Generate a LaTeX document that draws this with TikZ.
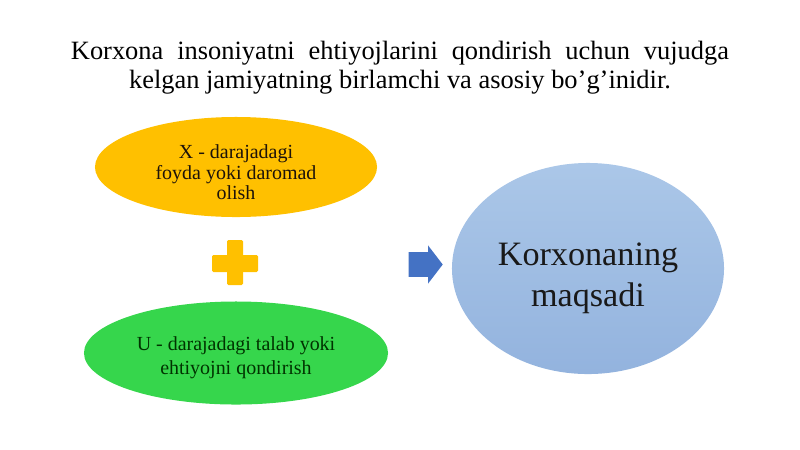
\documentclass[tikz,border=0pt]{standalone}
\usepackage{fontspec}
\setmainfont{Liberation Serif}
\usetikzlibrary{shapes.geometric,shapes.arrows}

\definecolor{goldfill}{HTML}{FFC000}
\definecolor{greenfill}{HTML}{36D64C}
\definecolor{bluetop}{HTML}{ABC7E8}
\definecolor{bluebottom}{HTML}{93B3DE}
\definecolor{arrowblue}{HTML}{4472C4}

\newcommand{\ovaltext}[2]{\raisebox{#1}[\height][\depth]{\begin{tabular}{@{}c@{}}#2\end{tabular}}}

\tikzset{
  oval/.style={ellipse, inner sep=0pt, align=center},
}

\begin{document}
\begin{tikzpicture} [x=0.025cm, y=-0.025cm]
	\useasboundingbox (0,0) rectangle (800,449);
	\node (title) at (400,68) [align=center, font=\fontsize{18.8}{20.6}\selectfont]
		{\makebox[16.45cm][s]{Korxona insoniyatni ehtiyojlarini qondirish uchun vujudga}\\
		 kelgan jamiyatning birlamchi va asosiy bo’g’inidir.};
	\node (profit) at (236,167) [oval, fill=goldfill, text=black!85!brown,
		minimum width=7.05cm, minimum height=2.5cm, font=\fontsize{14.2}{14.6}\selectfont]
		{\ovaltext{-0.2cm}{X - darajadagi\\foyda yoki daromad\\olish}};
	\fill[goldfill, rounded corners=1pt] (212,255) rectangle (258,272);
	\fill[goldfill, rounded corners=1pt] (227,240) rectangle (243,285);
	\node (need) at (236,353) [oval, fill=greenfill, text=black!80!green,
		minimum width=7.6cm, minimum height=2.575cm, font=\fontsize{14.2}{17}\selectfont]
		{\ovaltext{-0.11cm}{U - darajadagi talab yoki\\ehtiyojni qondirish}};
	\node (arr) at (421,264.5) [single arrow, fill=arrowblue, inner xsep=0pt, inner ysep=0.3cm,
		minimum height=0.85cm, single arrow head extend=0.17cm, single arrow tip angle=105] {};
	\node (goal) at (588,268.5) [oval, top color=bluetop, bottom color=bluebottom,
		text=black!90, minimum width=6.8cm, minimum height=5.275cm,
		font=\fontsize{24.3}{30.6}\selectfont]
		{\ovaltext{-0.22cm}{Korxonaning\\[-0.07cm]maqsadi}};
\end{tikzpicture}
\end{document}
